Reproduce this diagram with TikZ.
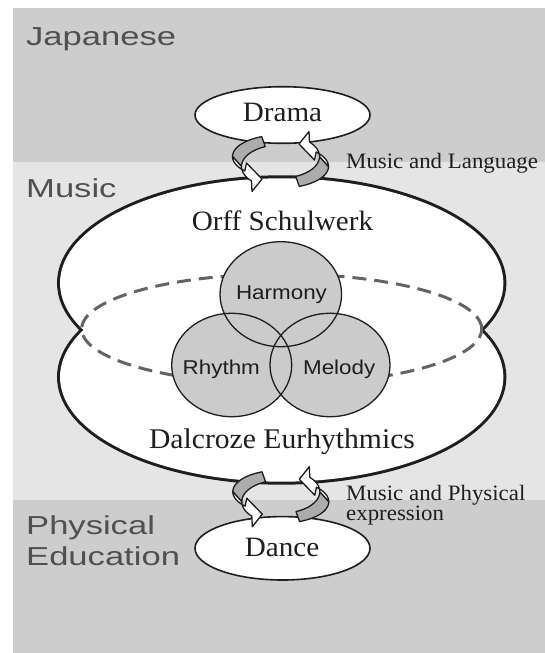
\documentclass[tikz,border=0pt]{standalone}
\usepackage{fontspec}
\usetikzlibrary{shapes.geometric}

\newfontfamily\seriffont{Liberation Serif}[FakeStretch=1.04]
\newfontfamily\bandfont{Liberation Sans}[FakeStretch=1.33]
\newfontfamily\circfont{Liberation Sans}[FakeStretch=1.12]

\definecolor{banddark}{RGB}{205,205,205}
\definecolor{bandlight}{RGB}{229,229,229}
\definecolor{circlefill}{RGB}{203,203,203}
\definecolor{ribbongray}{RGB}{172,172,172}
\definecolor{labelgray}{RGB}{80,80,80}
\definecolor{dashgray}{RGB}{100,100,100}
\definecolor{ink}{RGB}{30,30,30}

\tikzset{
  ribbon/.style={draw=ink, line width=1.3pt, line join=round},
  bandlabel/.style={anchor=base west, inner sep=0pt, text=labelgray,
    font=\bandfont\fontsize{26}{28}\selectfont},
  serifcenter/.style={anchor=base, inner sep=0pt, text=ink,
    font=\seriffont\fontsize{28}{30}\selectfont},
  sidenote/.style={anchor=base west, inner sep=0pt, text=ink,
    font=\seriffont\fontsize{22}{23}\selectfont},
  circlabel/.style={anchor=base, inner sep=0pt, text=ink,
    font=\circfont\fontsize{20}{22}\selectfont},
  field/.style={ellipse, draw=ink, line width=1.6pt, fill=white, inner sep=0pt,
    minimum width=175pt},
  element/.style={draw=ink, line width=1.3pt},
  outline/.style={draw=ink, line width=6pt},
  dashline/.style={draw=dashgray, line width=3pt, dash pattern=on 14pt off 8pt}
}

% one half of the exchange symbol: grey tail on the back, white front with head
\newcommand{\halfcycle}{%
  \filldraw[ribbon, fill=ribbongray]
    plot[domain=113:180, samples=16] ({48*cos(\x)},{-21.6*sin(\x)-5})
    -- plot[domain=180:113, samples=16] ({39*cos(\x)},{-21.6*sin(\x)+5}) -- cycle;
  \filldraw[ribbon, fill=white]
    plot[domain=180:222, samples=12] ({48*cos(\x)},{-21.6*sin(\x)-5})
    -- (-34,1.5) -- (-18.5,17.5) -- (-28.5,30)
    -- plot[domain=222:180, samples=12] ({39*cos(\x)},{-21.6*sin(\x)+5}) -- cycle;
}
\newcommand{\exchange}[2]{%
  \begin{scope}[shift={(#1,#2)}]
    \halfcycle
    \begin{scope}[rotate=180]
      \halfcycle
    \end{scope}
  \end{scope}
}

\begin{document}
\begin{tikzpicture}[x=1pt, y=-1pt]
\useasboundingbox (0,0) rectangle (545,653);
\fill[white] (0,0) rectangle (545,653);

% subject bands
\fill[banddark]  (13,8)   rectangle (545,162);
\fill[bandlight] (13,162) rectangle (545,500);
\fill[banddark]  (13,500) rectangle (545,653);

\node[bandlabel] (japanese) at (26,45) {Japanese};
\node[bandlabel] (music) at (26,197) {Music};
\node[bandlabel] (physical) at (26,534) {Physical};
\node[bandlabel] (education) at (26,565) {Education};

% music area: two overlapping ellipses, only the outer contour stays visible
\draw[outline] (281.7,283) ellipse [x radius=221.7pt, y radius=104.7pt];
\draw[outline] (281.7,377) ellipse [x radius=221.7pt, y radius=104.7pt];
\fill[white] (281.7,283) ellipse [x radius=221.7pt, y radius=104.7pt]
             (281.7,377) ellipse [x radius=221.7pt, y radius=104.7pt];

% shared field of the two methods
\draw[dashline] (281.7,329) ellipse [x radius=200pt, y radius=55pt];

% the three elements of music
\fill[circlefill] (280.8,294.2) ellipse [x radius=60.8pt, y radius=52.5pt];
\fill[circlefill] (231.7,365) ellipse [x radius=60pt, y radius=51.7pt];
\fill[circlefill] (330,365) ellipse [x radius=60pt, y radius=51.7pt];
\draw[element] (280.8,294.2) ellipse [x radius=60.8pt, y radius=52.5pt];
\draw[element] (231.7,365) ellipse [x radius=60pt, y radius=51.7pt];
\draw[element] (330,365) ellipse [x radius=60pt, y radius=51.7pt];

\node[circlabel] (harmony) at (281.5,299.3) {Harmony};
\node[circlabel] (rhythm) at (221.3,374.3) {Rhythm};
\node[circlabel] (melody) at (339.2,374.3) {Melody};

\node[serifcenter] (orff) at (282.5,230) {Orff Schulwerk};
\node[serifcenter, font=\seriffont\fontsize{28.5}{30}\selectfont] (dalcroze) at (282,448.3) {Dalcroze Eurhythmics};

% neighbouring subjects
\node[field, minimum height=56.6pt] (drama) at (282.5,115) {};
\node[serifcenter] (dramatext) at (282.5,121.7) {Drama};
\node[field, minimum height=63.4pt] (dance) at (282.5,548.3) {};
\node[serifcenter] (dancetext) at (282,556.7) {Dance};

% exchanges between the subjects
\exchange{280.5}{161.5}
\exchange{280.8}{496.7}

\node[sidenote] (language) at (346,168.3) {Music and Language};
\node[sidenote] (physline) at (346,500) {Music and Physical};
\node[sidenote] (expression) at (346,520) {expression};
\end{tikzpicture}
\end{document}
